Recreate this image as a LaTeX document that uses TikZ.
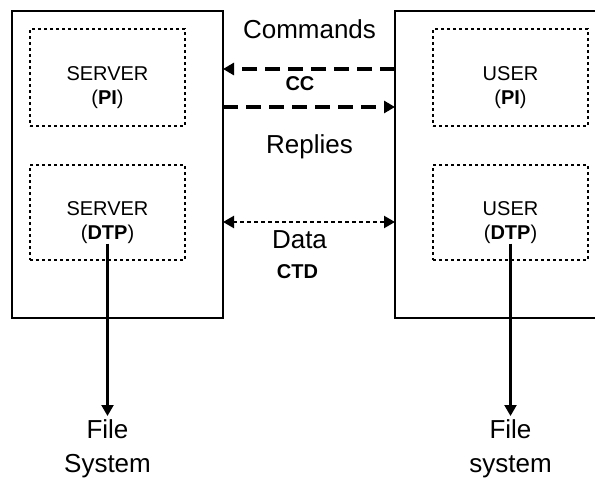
\documentclass[tikz,border=0pt]{standalone}
\usepackage{fontspec}
\setmainfont{Liberation Sans}
\usetikzlibrary{arrows.meta}
\tikzset{
	outerbox/.style={draw, line width=2pt, outer sep=0pt, minimum height=307pt},
	dotbox/.style={draw, line width=1.6pt, dash pattern=on 3pt off 3pt, minimum width=155pt},
	boxtext/.style={inner sep=0pt, align=center, font=\fontsize{20}{24}\selectfont},
	biglabel/.style={font=\fontsize{26}{34}\selectfont, align=center},
	smalllabel/.style={font=\fontsize{20}{24}\selectfont\bfseries},
	tip/.style={-{Triangle[length=11pt,width=12pt]}},
	ccline/.style={line width=3.5pt, dash pattern=on 15pt off 8pt},
	ctdline/.style={line width=2.2pt, dash pattern=on 3.5pt off 3.5pt},
	fsline/.style={line width=2.2pt}
}

\begin{document}
\begin{tikzpicture}[x=1pt, y=-1pt]
				\useasboundingbox (0,0) rectangle (595,479);
				\clip (0,0) rectangle (595,479);
				
				% the two hosts
				\node[outerbox, minimum width=211pt] (server) at (117.5,164.5) {};
				\node[outerbox, minimum width=245pt] (user) at (517.5,164.5) {};
				
				\node[dotbox, minimum height=97pt] (serverpi) at (107.5,77.5) {};
				\node[dotbox, minimum height=95pt] (serverdtp) at (107.5,212.5) {};
				\node[dotbox, minimum height=97pt] (userpi) at (510.5,77.5) {};
				\node[dotbox, minimum height=95pt] (userdtp) at (510.5,212.5) {};
				
				\node[boxtext, anchor=north] (serverpitext) at (107.5,66) {SERVER\\(\textbf{PI})};
				\node[boxtext, anchor=north] (serverdtptext) at (107.5,201) {SERVER\\(\textbf{DTP})};
				\node[boxtext, anchor=north] (userpitext) at (510.5,66) {USER\\(\textbf{PI})};
				\node[boxtext, anchor=north] (userdtptext) at (510.5,201) {USER\\(\textbf{DTP})};
				
				% connections between them
				\coordinate (cctop) at (309,69);
				\coordinate (ccbottom) at (309,107);
				\coordinate (ctd) at (309,222);
				\draw[ccline, tip] (user.west |- cctop) -- (server.east |- cctop);
				\draw[ccline, tip] (server.east |- ccbottom) -- (user.west |- ccbottom);
				\draw[ctdline, {Triangle[length=11pt,width=12pt]}-{Triangle[length=11pt,width=12pt]}] (server.east |- ctd) -- (user.west |- ctd);
				
				\node[biglabel, anchor=base] (commands) at (309.5,38) {Commands};
				\node[smalllabel, anchor=base] (cc) at (300,90) {CC};
				\node[biglabel, anchor=base] (replies) at (309.5,153) {Replies};
				\node[biglabel, anchor=base] (data) at (299.5,248) {Data};
				\node[smalllabel, anchor=base] (ctdtext) at (297.5,278) {CTD};
				
				% file systems
				\node[biglabel, anchor=north] (serverfs) at (107.5,416) {File\\System};
				\node[biglabel, anchor=north] (userfs) at (510.5,416) {File\\system};
				\draw[fsline, tip] (serverdtptext.south) -- (serverfs.north);
				\draw[fsline, tip] (userdtptext.south) -- (userfs.north);
			\end{tikzpicture}
\end{document}
